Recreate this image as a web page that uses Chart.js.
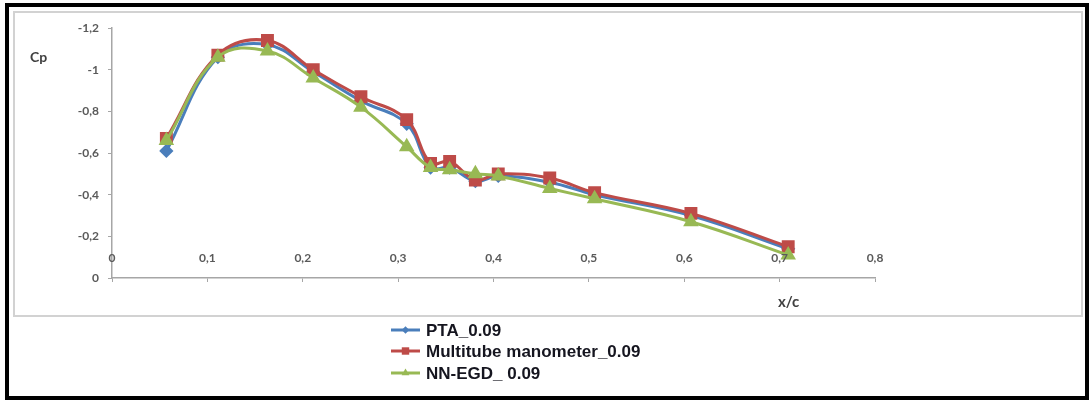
<!DOCTYPE html>
<html>
<head>
<meta charset="utf-8">
<title>Cp distribution</title>
<script src="https://cdn.jsdelivr.net/npm/chart.js@4/dist/chart.umd.min.js"></script>
<style>
  html, body { margin: 0; padding: 0; background: #ffffff; }
  #wrap { width: 1089px; height: 400px; position: relative; }
  canvas { display: block; }
</style>
</head>
<body>
<div id="wrap"><canvas id="cp" width="1089" height="400"></canvas></div>
<script>
// Chordwise tap positions (x/c)
const xc = [0.057, 0.111, 0.163, 0.211, 0.261, 0.309, 0.334, 0.354, 0.381, 0.405, 0.459, 0.506, 0.607, 0.709];

// Pressure coefficients for each measurement method
const ptaCp       = [-0.61, -1.06, -1.12, -0.99, -0.85, -0.74, -0.53, -0.53, -0.465, -0.49, -0.46, -0.40, -0.30, -0.14];
const multitubeCp = [-0.67, -1.07, -1.14, -1.00, -0.87, -0.76, -0.55, -0.56, -0.47, -0.50, -0.48, -0.41, -0.31, -0.15];
const nnEgdCp     = [-0.66, -1.06, -1.09, -0.96, -0.82, -0.63, -0.53, -0.52, -0.50, -0.49, -0.43, -0.38, -0.27, -0.11];

const seriesNames = ['PTA_0.09', 'Multitube manometer_0.09', 'NN-EGD_ 0.09'];

// Axis tick text (decimal comma)
const xTickLabels = ['0', '0,1', '0,2', '0,3', '0,4', '0,5', '0,6', '0,7', '0,8'];
const yTickLabels = ['0', '-0,2', '-0,4', '-0,6', '-0,8', '-1', '-1,2'];

const yTitle = 'Cp';
const xTitle = 'x/c';

const toPoints = (ys) => xc.map((x, i) => ({ x: x, y: ys[i] }));

const tickFont = { family: 'Lato', size: 12, weight: 'bold' };
const tickColor = '#5a5a5a';
const axisColor = '#a6a6a6';

// Frame, axis titles, x tick text above the axis line and the stacked legend
const decorations = {
  id: 'decorations',
  beforeDraw(chart) {
    const ctx = chart.ctx;
    ctx.save();
    ctx.fillStyle = '#ffffff';
    ctx.fillRect(0, 0, chart.width, chart.height);
    ctx.strokeStyle = '#d2d2d2';
    ctx.lineWidth = 2;
    ctx.strokeRect(14, 12, 1068, 304);
    ctx.strokeStyle = '#000000';
    ctx.lineWidth = 4;
    ctx.strokeRect(7, 5, 1080, 393);
    ctx.restore();
  },
  afterDatasetsDraw(chart) {
    const ctx = chart.ctx;
    const xs = chart.scales.x;
    ctx.save();
    ctx.fillStyle = tickColor;
    ctx.font = 'bold 12px Lato';
    ctx.textAlign = 'center';
    ctx.textBaseline = 'middle';
    xs.ticks.forEach((t) => {
      ctx.fillText(xTickLabels[Math.round(t.value * 10)], xs.getPixelForValue(t.value), xs.top - 20);
    });
    ctx.restore();
  },
  afterDraw(chart) {
    const ctx = chart.ctx;
    ctx.save();
    ctx.fillStyle = '#404040';
    ctx.textBaseline = 'middle';
    ctx.textAlign = 'left';
    ctx.font = 'bold 14px Lato';
    ctx.fillText(yTitle, 30, 57);
    ctx.font = 'bold 15px Lato';
    ctx.fillText(xTitle, 778, 302);

    // legend, one entry per row
    const rows = [330, 351, 373];
    chart.data.datasets.forEach((ds, i) => {
      const y = rows[i];
      ctx.strokeStyle = ds.borderColor;
      ctx.lineWidth = 3;
      ctx.beginPath();
      ctx.moveTo(391, y);
      ctx.lineTo(420, y);
      ctx.stroke();
      ctx.fillStyle = ds.pointBackgroundColor;
      Chart.helpers.drawPoint(ctx, {
        pointStyle: ds.pointStyle,
        radius: ds.pointRadius * 0.75,
        borderWidth: 0
      }, 405.5, y);
      ctx.fillStyle = '#15151f';
      ctx.font = 'bold 17px "Liberation Sans"';
      ctx.fillText(ds.label, 426, y + 1);
    });
    ctx.restore();
  }
};

new Chart(document.getElementById('cp'), {
  type: 'line',
  data: {
    datasets: [
      {
        label: seriesNames[0],
        data: toPoints(ptaCp),
        borderColor: '#4a7ebb',
        backgroundColor: '#4a7ebb',
        pointBackgroundColor: '#4a7ebb',
        pointBorderColor: '#4a7ebb',
        pointStyle: 'rectRot',
        pointRadius: 5,
        borderWidth: 3,
        tension: 0.4,
        order: 2
      },
      {
        label: seriesNames[1],
        data: toPoints(multitubeCp),
        borderColor: '#be4b48',
        backgroundColor: '#be4b48',
        pointBackgroundColor: '#be4b48',
        pointBorderColor: '#be4b48',
        pointStyle: 'rect',
        pointRadius: 7,
        borderWidth: 3,
        tension: 0.4,
        order: 1
      },
      {
        label: seriesNames[2],
        data: toPoints(nnEgdCp),
        borderColor: '#98b954',
        backgroundColor: '#98b954',
        pointBackgroundColor: '#98b954',
        pointBorderColor: '#98b954',
        pointStyle: 'triangle',
        pointRadius: 6,
        borderWidth: 3,
        tension: 0.4,
        order: 0
      }
    ]
  },
  options: {
    responsive: false,
    animation: false,
    devicePixelRatio: 1,
    layout: { padding: { left: 0, top: 28, right: 214, bottom: 0 } },
    plugins: {
      legend: { display: false },
      tooltip: { enabled: false }
    },
    scales: {
      x: {
        type: 'linear',
        position: 'bottom',
        min: 0,
        max: 0.8,
        afterFit: (s) => { s.height = 122; },
        afterBuildTicks: (s) => { s.ticks = xTickLabels.map((_, i) => ({ value: i / 10 })); },
        border: { display: true, color: axisColor, width: 1.5 },
        grid: { display: true, drawOnChartArea: false, drawTicks: true, tickLength: 4, color: axisColor },
        ticks: { display: false, autoSkip: false }
      },
      y: {
        type: 'linear',
        reverse: true,
        min: -1.2,
        max: 0,
        afterFit: (s) => { s.width = 112; },
        afterBuildTicks: (s) => { s.ticks = yTickLabels.map((_, i) => ({ value: -i / 5 })); },
        border: { display: true, color: axisColor, width: 1.5 },
        grid: { display: true, drawOnChartArea: false, drawTicks: true, tickLength: 4, color: axisColor },
        ticks: {
          padding: 9,
          color: tickColor,
          font: tickFont,
          callback: (v) => yTickLabels[Math.round(-v * 5)]
        }
      }
    }
  },
  plugins: [decorations]
});
</script>
</body>
</html>
